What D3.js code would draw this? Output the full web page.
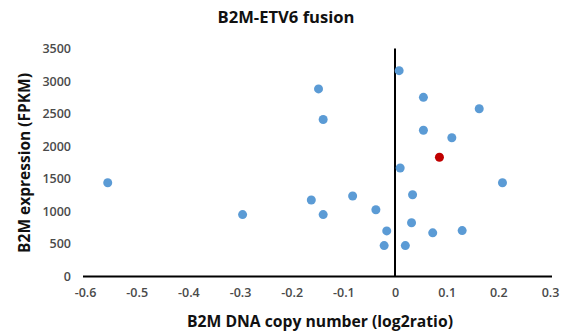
<!DOCTYPE html>
<html><head><meta charset="utf-8">
<script src="https://cdn.jsdelivr.net/npm/d3@7"></script>
<style>body{margin:0;background:#fff}svg{display:block}</style>
</head><body>
<svg id="c" width="561" height="335"></svg>
<script>
const xValues = [-0.556,-0.295,-0.148,-0.139,-0.162,-0.139,0.008,0.055,0.163,0.055,0.110,0.010,0.208,-0.082,0.034,-0.037,0.032,-0.016,0.073,0.130,-0.021,0.020];
const yValues = [1440,950,2880,2410,1175,950,3160,2750,2575,2245,2130,1665,1440,1235,1255,1025,825,700,670,705,475,475];
const highlightX = [0.086];
const highlightY = [1830];
const xTicks = [-0.6,-0.5,-0.4,-0.3,-0.2,-0.1,0,0.1,0.2,0.3];
const yTicks = [0,500,1000,1500,2000,2500,3000,3500];

const svg = d3.select("#c");
const x = d3.scaleLinear().domain([-0.6,0.3]).range([85,550]);
const y = d3.scaleLinear().domain([0,3500]).range([276.5,48.5]);
const font = "Open Sans, sans-serif";
const fmt = d => d === 0 ? "0" : d3.format(".1f")(d).replace("\u2212","-");

function fit(sel, w){
  const n = sel.node();
  const fs = parseFloat(sel.attr("font-size"));
  const len = n.getComputedTextLength();
  sel.attr("font-size", (fs*w/len).toFixed(2));
}

const t = svg.append("text").attr("x",286).attr("y",23).attr("text-anchor","middle")
  .attr("font-family",font).attr("font-weight","bold").attr("font-size",14).attr("fill","#111")
  .text("B2M-ETV6 fusion");
fit(t,137);

// y tick labels
const yAxis = d3.axisLeft(y).tickValues(yTicks).tickSize(0).tickPadding(0).tickFormat(d3.format("d"));
const gy = svg.append("g").attr("transform","translate(71,0)").call(yAxis);
gy.select(".domain").remove();
gy.selectAll("text").attr("font-family",font).attr("font-size",12.5).attr("font-weight",600).attr("fill","#4a4a4a");

// x tick labels
const xAxis = d3.axisBottom(x).tickValues(xTicks).tickSize(0).tickPadding(0).tickFormat(fmt);
const gx = svg.append("g").attr("transform","translate(0,288)").call(xAxis);
gx.select(".domain").remove();
gx.selectAll("text").attr("font-family",font).attr("font-size",12.5).attr("font-weight",600).attr("fill","#4a4a4a");

// axis lines through zero
svg.append("line").attr("x1",x(-0.6)-2).attr("x2",x(0.3)+2).attr("y1",y(0)).attr("y2",y(0))
  .attr("stroke","#000").attr("stroke-width",2);
svg.append("line").attr("x1",x(0)).attr("x2",x(0)).attr("y1",y(0)).attr("y2",y(3500))
  .attr("stroke","#000").attr("stroke-width",2);

const pts = xValues.map((v,i)=>({x:v,y:yValues[i]}));
svg.append("g").selectAll("circle").data(pts).join("circle")
  .attr("cx",d=>x(d.x)).attr("cy",d=>y(d.y)).attr("r",4.5).attr("fill","#5b9bd5");
svg.append("g").selectAll("circle").data(highlightX.map((v,i)=>({x:v,y:highlightY[i]}))).join("circle")
  .attr("cx",d=>x(d.x)).attr("cy",d=>y(d.y)).attr("r",4.5).attr("fill","#c00000");

const xt = svg.append("text").attr("x",320).attr("y",327).attr("text-anchor","middle")
  .attr("font-family",font).attr("font-weight","bold").attr("font-size",13).attr("fill","#111")
  .text("B2M DNA copy number (log2ratio)");
fit(xt,266);
const yt = svg.append("text").attr("transform","translate(30,163) rotate(-90)").attr("text-anchor","middle")
  .attr("font-family",font).attr("font-weight","bold").attr("font-size",13).attr("fill","#111")
  .text("B2M expression (FPKM)");
fit(yt,180);
</script>
</body></html>
